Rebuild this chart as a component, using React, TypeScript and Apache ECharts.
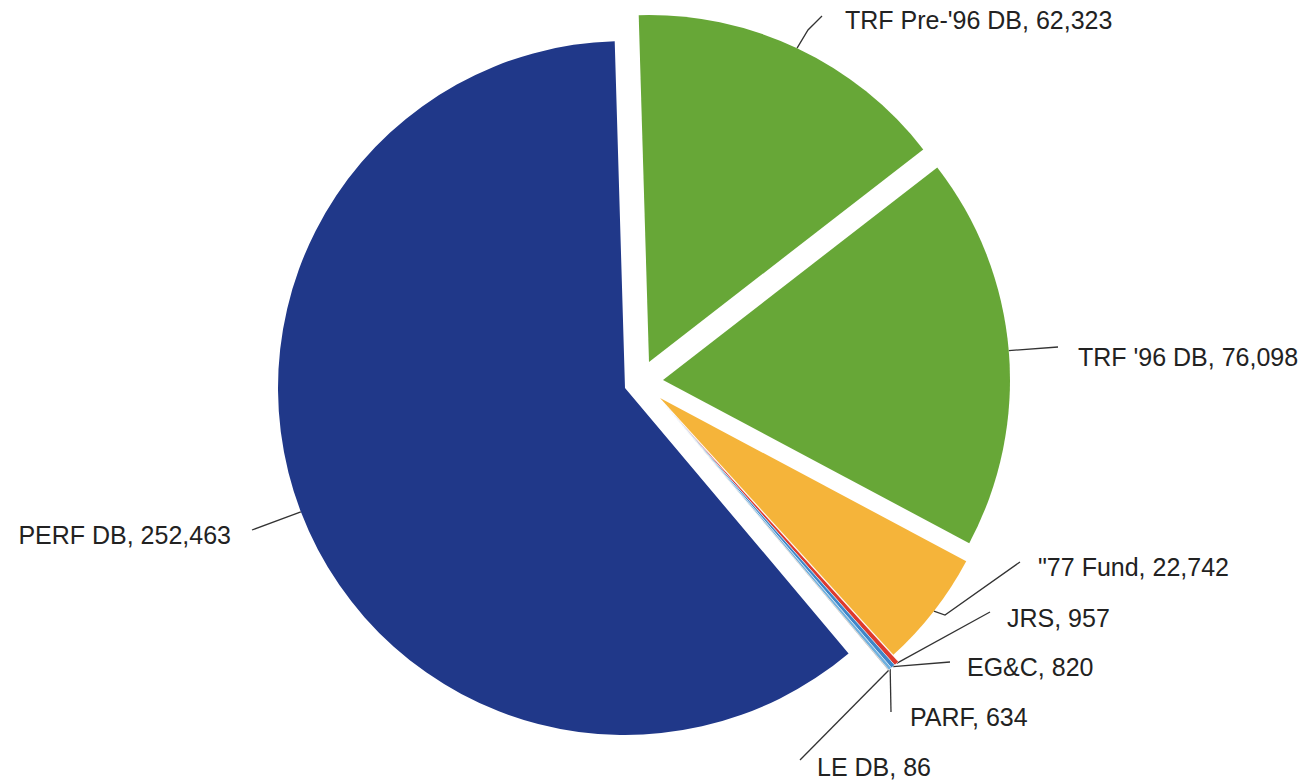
import React, { useEffect, useRef } from "react";
import * as echarts from "echarts";

// ---- data ----
const categories = ["TRF Pre-'96 DB", "TRF '96 DB", '"77 Fund', "JRS", "EG&C", "PARF", "LE DB", "PERF DB"];
const values = [62323, 76098, 22742, 957, 820, 634, 86, 252463];
const colors = ["#67A737", "#67A737", "#F5B43A", "#DE3A2E", "#3F86C8", "#6FB0DE", "#4A4A4A", "#203889"];

// ---- layout (exploded groups: each group's pie centre) ----
const groups = [[7], [0], [1], [2], [3, 4, 5, 6]];
const groupCenters = [
  [625, 388],
  [649, 362],
  [663, 380],
  [660, 398],
  [665, 405],
];
const RADIUS = 347;
const START_ANGLE = 91.7;

// label anchor (x, y, align) and leader-line bends after the arc point
const labelAnchors: [number, number, string][] = [
  [845, 20, "left"],
  [1078, 357, "left"],
  [1038, 567, "left"],
  [1007, 618, "left"],
  [967, 667, "left"],
  [910, 717, "left"],
  [817, 767, "left"],
  [231, 535, "right"],
];
const leaderBends: number[][][] = [
  [[808, 30], [822, 16]],
  [[1058, 347]],
  [[945, 615], [1020, 562]],
  [[990, 612]],
  [[950, 662]],
  [[891, 712]],
  [[800, 760]],
  [[252, 530]],
];

const fmt = (v: number) => v.toLocaleString("en-US");

export default function App() {
  const ref = useRef<HTMLDivElement>(null);
  useEffect(() => {
    if (!ref.current) return;
    const chart = echarts.init(ref.current, null, { renderer: "svg" });
    const series = groups.map((members, gi) => ({
      type: "pie",
      center: groupCenters[gi],
      radius: RADIUS,
      startAngle: START_ANGLE,
      clockwise: true,
      silent: true,
      avoidLabelOverlap: false,
      emphasis: { disabled: true },
      label: {
        show: true,
        position: "outer",
        color: "#222",
        fontFamily: "Liberation Sans, Arial, sans-serif",
        fontSize: 25,
        formatter: (p: any) => `${p.name}, ${fmt(p.value)}`,
      },
      labelLine: { show: true, lineStyle: { color: "#333", width: 1.3 } },
      labelLayout: (p: any) => {
        const i = p.dataIndex;
        const a = labelAnchors[i];
        const start = p.labelLinePoints ? p.labelLinePoints[0] : null;
        const pts = start ? [start, ...leaderBends[i]] : undefined;
        return {
          x: a[0],
          y: a[1],
          align: a[2],
          verticalAlign: "middle",
          labelLinePoints: pts,
        };
      },
      data: categories.map((name, i) => {
        const visible = members.includes(i);
        const small = i >= 3 && i <= 6;
        return {
          name,
          value: values[i],
          itemStyle: visible
            ? {
                color: colors[i],
                borderColor: small ? "#fff" : colors[i],
                borderWidth: small ? 0.5 : 0,
              }
            : { color: "rgba(0,0,0,0)", borderWidth: 0 },
          label: { show: visible },
          labelLine: { show: visible },
        };
      }),
    }));
    chart.setOption({
      animation: false,
      backgroundColor: "#ffffff",
      series,
    } as any);
    return () => chart.dispose();
  }, []);
  return (
    <div
      ref={ref}
      style={{ position: "fixed", left: 0, top: 0, width: 1310, height: 783 }}
    />
  );
}
